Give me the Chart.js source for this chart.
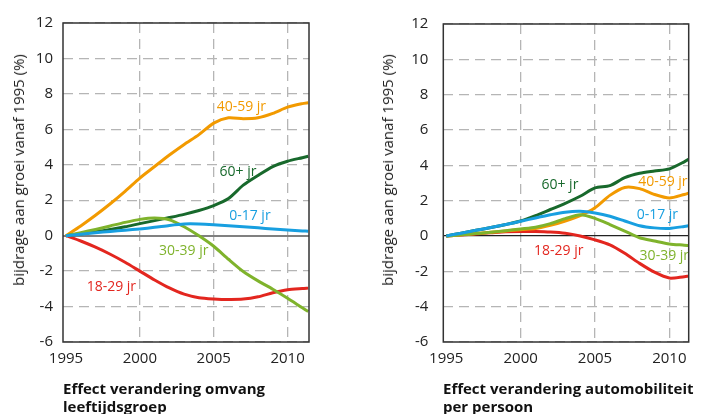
<!DOCTYPE html>
<html>
<head>
<meta charset="utf-8">
<script src="https://cdn.jsdelivr.net/npm/chart.js@4.4.0/dist/chart.umd.min.js"></script>
<style>
  body { margin: 0; background: #fff; font-family: "Open Sans", sans-serif; }
  #wrap { position: relative; width: 706px; height: 414px; overflow: hidden; }
  canvas { position: absolute; top: 0; }
  .ytitle { position: absolute; font-size: 15px; color: #222; white-space: nowrap;
            transform: translate(-50%, -50%) rotate(-90deg); }
  .title { position: absolute; top: 380px; font-weight: bold; font-size: 15px;
           line-height: 17.5px; color: #111; white-space: nowrap; }
</style>
</head>
<body>
<div id="wrap">
  <canvas id="left" width="353" height="414" style="left:0"></canvas>
  <canvas id="right" width="353" height="414" style="left:353px"></canvas>
  <div class="ytitle" style="left:17.5px; top:170px">bijdrage aan groei vanaf 1995 (%)</div>
  <div class="ytitle" style="left:387px; top:170px">bijdrage aan groei vanaf 1995 (%)</div>
  <div class="title" style="left:63px">Effect verandering omvang<br>leeftijdsgroep</div>
  <div class="title" style="left:443px">Effect verandering automobiliteit<br>per persoon</div>
</div>
<script>
const orange = '#F29A00'
const darkGreen = '#18692C'
const lightGreen = '#7FB32C'
const blue = '#189FE0'
const red = '#E3261F'

// years; last point is where the lines hit the right edge of the plot
const years = [1995, 1996, 1997, 1998, 1999, 2000, 2001, 2002, 2003, 2004, 2005, 2006, 2007, 2008, 2009, 2010, 2011, 2011.4]
const yearTicks = [1995, 2000, 2005, 2010]
const seriesNames = ['0-17 jr', '30-39 jr', '60+ jr', '40-59 jr', '18-29 jr']

// effect verandering omvang leeftijdsgroep
const left_0_17 = [0, 0.08, 0.16, 0.24, 0.31, 0.38, 0.47, 0.58, 0.66, 0.66, 0.62, 0.56, 0.5, 0.44, 0.38, 0.32, 0.27, 0.25]
const left_30_39 = [0, 0.17, 0.35, 0.55, 0.75, 0.92, 1.0, 0.9, 0.5, -0.01, -0.6, -1.33, -2.02, -2.55, -3.02, -3.53, -4.07, -4.28]
const left_60 = [0, 0.1, 0.22, 0.35, 0.5, 0.68, 0.85, 1.02, 1.2, 1.42, 1.7, 2.1, 2.85, 3.4, 3.9, 4.2, 4.4, 4.48]
const left_40_59 = [0, 0.55, 1.15, 1.8, 2.5, 3.25, 3.9, 4.55, 5.15, 5.7, 6.35, 6.65, 6.6, 6.65, 6.9, 7.25, 7.45, 7.5]
const left_18_29 = [0, -0.3, -0.65, -1.05, -1.5, -2.0, -2.5, -2.95, -3.3, -3.5, -3.57, -3.6, -3.58, -3.45, -3.22, -3.05, -2.98, -2.96]

// effect verandering automobiliteit per persoon
const right_0_17 = [0, 0.16, 0.32, 0.48, 0.65, 0.83, 1.02, 1.2, 1.35, 1.4, 1.3, 1.12, 0.85, 0.58, 0.46, 0.43, 0.54, 0.6]
const right_30_39 = [0, 0.07, 0.14, 0.21, 0.3, 0.4, 0.5, 0.7, 0.98, 1.2, 1.0, 0.65, 0.28, -0.1, -0.28, -0.45, -0.52, -0.55]
const right_60 = [0, 0.16, 0.32, 0.48, 0.65, 0.85, 1.15, 1.5, 1.85, 2.25, 2.72, 2.85, 3.3, 3.55, 3.68, 3.8, 4.2, 4.4]
const right_40_59 = [0, 0.07, 0.14, 0.21, 0.28, 0.36, 0.42, 0.6, 0.85, 1.15, 1.6, 2.3, 2.75, 2.68, 2.35, 2.15, 2.35, 2.46]
const right_18_29 = [0, 0.06, 0.12, 0.18, 0.24, 0.26, 0.25, 0.22, 0.15, 0.0, -0.22, -0.5, -0.98, -1.55, -2.05, -2.38, -2.3, -2.27]

const colors = [blue, lightGreen, darkGreen, orange, red]

//draws the series names next to the lines and the box round the plot
const inlineLabels = {
  id: 'inlineLabels',
  afterDatasetsDraw(chart, args, opts) {
    const { ctx, chartArea, scales } = chart
    ctx.save()
    ctx.font = '14px "Open Sans"'
    ctx.textBaseline = 'middle'
    opts.items.forEach(function (it, i) {
      ctx.fillStyle = colors[i]
      ctx.fillText(seriesNames[i], scales.x.getPixelForValue(it[0]), scales.y.getPixelForValue(it[1]))
    })
    ctx.strokeStyle = '#333'
    ctx.lineWidth = 1.5
    ctx.strokeRect(chartArea.left, chartArea.top, chartArea.width, chartArea.height)
    ctx.restore()
  }
}

function panel(canvasID, series, labelAt, xMax, axisWidth, padRight, tickPad, zeroColor, zeroWidth) {
  new Chart(document.getElementById(canvasID), {
    type: 'line',
    data: {
      datasets: series.map(function (values, i) {
        return {
          label: seriesNames[i],
          data: years.map((yr, j) => ({ x: yr, y: values[j] })),
          borderColor: colors[i],
          borderWidth: 3,
          pointRadius: 0,
          tension: 0.25,
          fill: false
        }
      })
    },
    options: {
      responsive: false,
      animation: false,
      layout: { padding: { top: 23, right: padRight, bottom: 42, left: 0 } },
      plugins: {
        legend: { display: false },
        tooltip: { enabled: false },
        inlineLabels: { items: labelAt }
      },
      scales: {
        x: {
          type: 'linear',
          min: 1994.8,
          max: xMax,
          afterBuildTicks: function (scale) {
            scale.ticks = yearTicks.map(v => ({ value: v }))
          },
          afterFit: function (scale) { scale.height = 30 },
          ticks: {
            font: { family: 'Open Sans', size: 15 },
            color: '#222',
            padding: 8,
            maxRotation: 0,
            callback: v => String(v)
          },
          grid: {
            drawTicks: false,
            color: ctx => ctx.tick && ctx.tick.value === 1995 ? 'rgba(0,0,0,0)' : '#b5b5b5',
            lineWidth: 1.3
          },
          border: { display: false, dash: [10, 6] }
        },
        y: {
          min: -6,
          max: 12,
          afterFit: function (scale) { scale.width = axisWidth },
          ticks: {
            stepSize: 2,
            font: { family: 'Open Sans', size: 15 },
            color: '#222',
            padding: tickPad
          },
          grid: {
            drawTicks: false,
            color: ctx => ctx.tick && ctx.tick.value === 0 ? zeroColor : '#b5b5b5',
            lineWidth: ctx => ctx.tick && ctx.tick.value === 0 ? zeroWidth : 1.3
          },
          border: {
            display: false,
            dash: ctx => ctx.tick && ctx.tick.value === 0 ? [] : [10, 6]
          }
        }
      }
    },
    plugins: [inlineLabels]
  })
}

panel('left',
  [left_0_17, left_30_39, left_60, left_40_59, left_18_29],
  [[2006.05, 1.1], [2001.3, -0.85], [2005.4, 3.6], [2005.2, 7.25], [1996.4, -2.9]],
  2011.45, 63, 44, 10, '#808080', 2)

panel('right',
  [right_0_17, right_30_39, right_60, right_40_59, right_18_29],
  [[2007.8, 1.19], [2008.0, -1.13], [2001.4, 2.86], [2007.9, 3.08], [2000.9, -0.83]],
  2011.3, 90.3, 17.3, 15, '#222', 1.2)
</script>
</body>
</html>
